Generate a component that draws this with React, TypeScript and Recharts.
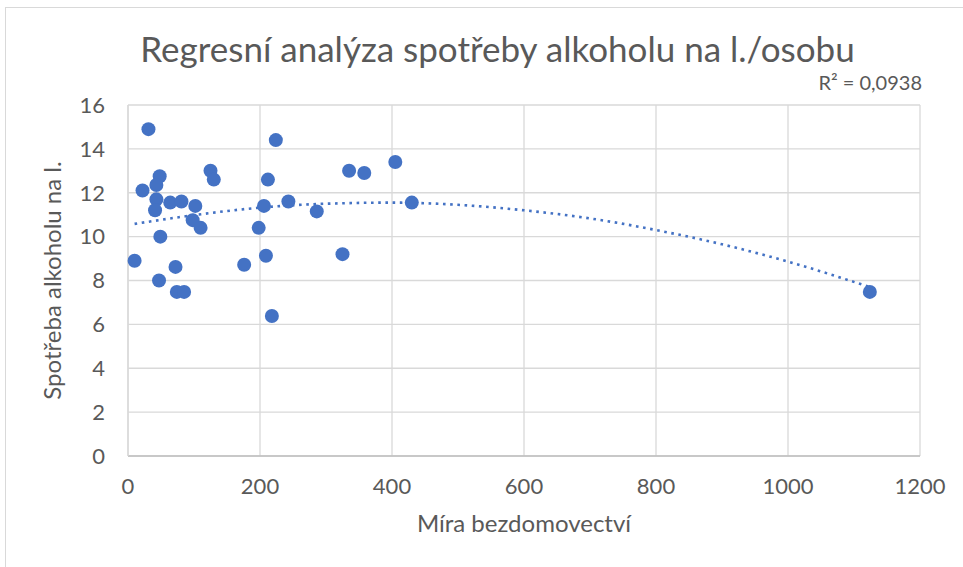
import React from "react";
import {
  CartesianGrid,
  ComposedChart,
  Label,
  Line,
  Scatter,
  XAxis,
  YAxis,
} from "recharts";

// míra bezdomovectví vs. spotřeba alkoholu (l./osobu)
const homelessRate = [
  31, 224, 125, 130, 212, 48, 43, 22, 43, 41, 64, 81, 102, 98, 110, 206, 243,
  286, 198, 49, 10, 72, 176, 209, 47, 74, 85, 218, 335, 358, 405, 430, 325, 1124,
];
const alcohol = [
  14.9, 14.4, 13.0, 12.6, 12.6, 12.75, 12.35, 12.1, 11.7, 11.2, 11.55, 11.6,
  11.4, 10.75, 10.4, 11.4, 11.6, 11.15, 10.4, 10.0, 8.9, 8.62, 8.72, 9.13, 8.0,
  7.48, 7.48, 6.38, 13.0, 12.9, 13.4, 11.55, 9.2, 7.48,
];

// polynomická spojnice trendu
const trendX = [10, 100, 200, 300, 400, 500, 600, 700, 800, 900, 1000, 1124];
const trendY = [10.58, 10.98, 11.32, 11.5, 11.55, 11.45, 11.2, 10.83, 10.3, 9.65, 8.86, 7.7];

const xTicks = [0, 200, 400, 600, 800, 1000, 1200];
const yTicks = [0, 2, 4, 6, 8, 10, 12, 14, 16];

const points = homelessRate.map((x, i) => ({ x, y: alcohol[i] }));
const trend = trendX.map((x, i) => ({ x, trend: trendY[i] }));

const FONT = 'Lato, "Noto Sans", sans-serif';
const GREY = "#595959";
const BLUE = "#4472C4";

export default function App() {
  return (
    <div
      style={{
        position: "absolute",
        left: 0,
        top: 0,
        width: 963,
        height: 567,
        background: "#fff",
        fontFamily: FONT,
        overflow: "hidden",
      }}
    >
      <div
        style={{
          position: "absolute",
          left: 5,
          top: 7,
          width: 970,
          height: 600,
          border: "1px solid #d9d9d9",
          boxSizing: "border-box",
        }}
      />
      <div
        style={{
          position: "absolute",
          left: 0,
          width: 995,
          top: 28,
          lineHeight: "40px",
          textAlign: "center",
          fontSize: 35,
          color: GREY,
        }}
      >
        Regresní analýza spotřeby alkoholu na l./osobu
      </div>
      <div
        style={{
          position: "absolute",
          right: 41,
          top: 71,
          lineHeight: "22px",
          fontSize: 20,
          color: GREY,
        }}
      >
        R² = 0,0938
      </div>
      <ComposedChart
        width={963}
        height={567}
        margin={{ top: 105, right: 43, bottom: 41, left: 48 }}
        style={{ position: "absolute", left: 0, top: 0 }}
      >
        <CartesianGrid stroke="#d9d9d9" strokeWidth={1.3} />
        <XAxis
          type="number"
          dataKey="x"
          domain={[0, 1200]}
          ticks={xTicks}
          height={70}
          tickLine={false}
          tickSize={0}
          tickMargin={22}
          axisLine={{ stroke: "#bfbfbf", strokeWidth: 1.5 }}
          tick={{ fill: GREY, fontSize: 22, fontFamily: FONT }}
          allowDuplicatedCategory={false}
        >
          <Label
            value="Míra bezdomovectví"
            position="insideBottom"
            offset={-6}
            style={{ fill: GREY, fontSize: 24, fontFamily: FONT }}
          />
        </XAxis>
        <YAxis
          type="number"
          dataKey="y"
          domain={[0, 16]}
          ticks={yTicks}
          width={80}
          tickLine={false}
          tickSize={0}
          tickMargin={23}
          axisLine={{ stroke: "#d9d9d9", strokeWidth: 1.3 }}
          tick={{ fill: GREY, fontSize: 22, fontFamily: FONT }}
        >
          <Label
            value="Spotřeba alkoholu na l."
            angle={-90}
            position="insideLeft"
            offset={4}
            style={{ fill: GREY, fontSize: 24, fontFamily: FONT, textAnchor: "middle" }}
          />
        </YAxis>
        <Scatter
          data={points}
          dataKey="y"
          fill={BLUE}
          shape={(p: any) => <circle cx={p.cx} cy={p.cy} r={7} fill={BLUE} />}
          isAnimationActive={false}
        />
        <Line
          data={trend}
          dataKey="trend"
          type="monotone"
          stroke={BLUE}
          strokeWidth={2.6}
          strokeDasharray="2.6 4.6"
          dot={false}
          activeDot={false}
          isAnimationActive={false}
        />
      </ComposedChart>
    </div>
  );
}
